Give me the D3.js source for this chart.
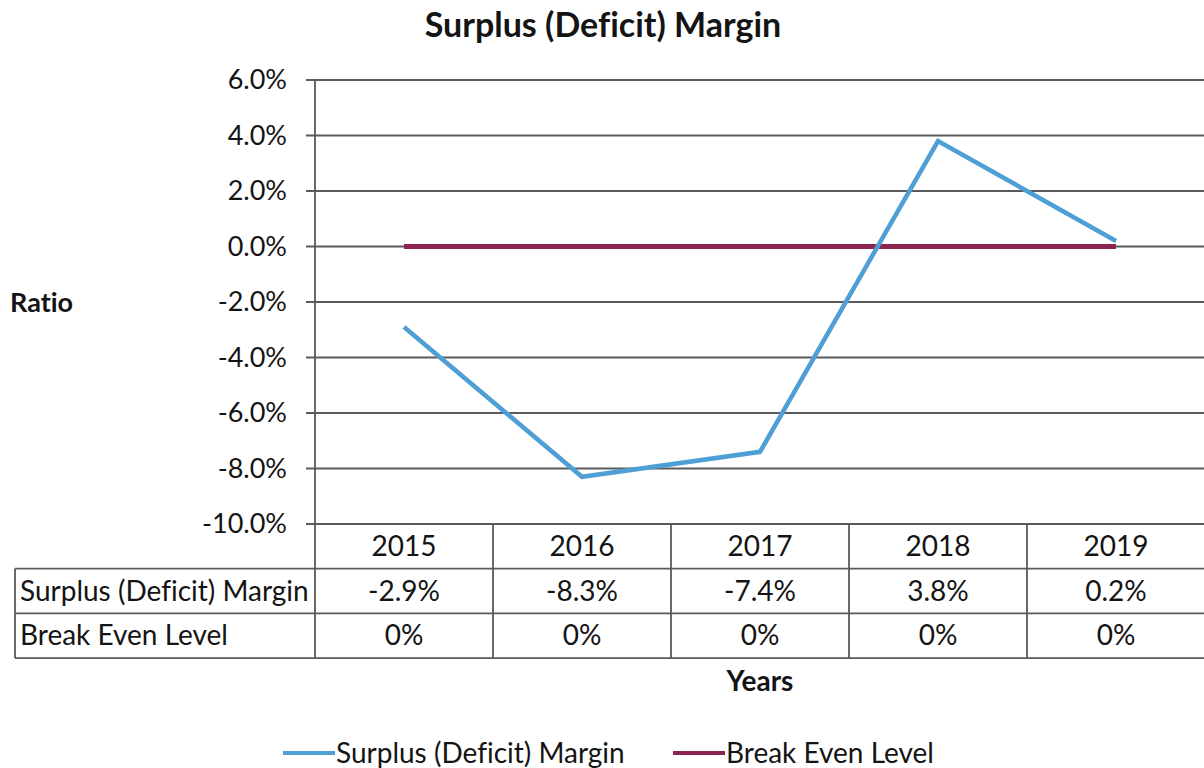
<!DOCTYPE html>
<head>
  <meta charset="utf-8">
  <style>
    body { margin: 0; background: #fff; }
    svg { display: block; font-family: Lato, 'Open Sans', sans-serif; font-variant-ligatures: none; }
  </style>
  <script src="https://cdn.jsdelivr.net/npm/d3@7"></script>
</head>
<body>
<div id=chart></div>
<script>
  const years = ['2015', '2016', '2017', '2018', '2019']
  const margin_values = [-2.9, -8.3, -7.4, 3.8, 0.2]
  const break_even = [0, 0, 0, 0, 0]
  const y_ticks = [6, 4, 2, 0, -2, -4, -6, -8, -10]
  const series = [
    { name: 'Surplus (Deficit) Margin', values: margin_values, color: '#4e9fd6', width: 4.5, fmt: v => `${v.toFixed(1)}%` },
    { name: 'Break Even Level', values: break_even, color: '#8c2450', width: 5, fmt: v => `${v}%` },
  ]

  const width = 1204, height = 768
  const plot_left = 315, plot_right = 1205, plot_top = 80, plot_bottom = 524
  const row_h = 44.7
  const table_left = 15
  const grid_color = '#5a5a5a'
  const text_color = '#141414'
  const fs = 28

  const svg = d3.select('#chart').append('svg')
    .attr('width', width)
    .attr('height', height)

  const x = d3.scaleBand().domain(years).range([plot_left, plot_right])
  const y = d3.scaleLinear().domain([-10, 6]).range([plot_bottom, plot_top])

  // title
  svg.append('text')
    .attr('x', 603).attr('y', 37)
    .attr('text-anchor', 'middle')
    .attr('font-size', 34).attr('font-weight', 'bold')
    .attr('fill', text_color)
    .text('Surplus (Deficit) Margin')

  // gridlines + y labels
  const grid = svg.append('g')
  grid.selectAll('line')
    .data(y_ticks)
    .join('line')
    .attr('x1', plot_left - 9).attr('x2', plot_right)
    .attr('y1', d => y(d)).attr('y2', d => y(d))
    .attr('stroke', grid_color).attr('stroke-width', 1.8)
  grid.selectAll('text')
    .data(y_ticks)
    .join('text')
    .attr('x', plot_left - 28)
    .attr('y', d => y(d) + 9)
    .attr('text-anchor', 'end')
    .attr('font-size', 27)
    .attr('fill', text_color)
    .text(d => `${d.toFixed(1)}%`)

  svg.append('text')
    .attr('x', 10).attr('y', 312)
    .attr('font-size', 27).attr('font-weight', 'bold')
    .attr('fill', text_color)
    .text('Ratio')

  // table
  const table = svg.append('g')
  const row_y = i => plot_bottom + i * row_h
  table.append('line')
    .attr('x1', plot_left).attr('x2', plot_right)
    .attr('y1', row_y(0)).attr('y2', row_y(0))
    .attr('stroke', grid_color).attr('stroke-width', 1.8)
  ;[1, 2, 3].forEach(i => {
    table.append('line')
      .attr('x1', table_left).attr('x2', plot_right)
      .attr('y1', row_y(i)).attr('y2', row_y(i))
      .attr('stroke', grid_color).attr('stroke-width', 1.8)
  })
  table.append('line')
    .attr('x1', plot_left).attr('x2', plot_left)
    .attr('y1', plot_top).attr('y2', row_y(3))
    .attr('stroke', grid_color).attr('stroke-width', 1.8)
  table.append('line')
    .attr('x1', table_left).attr('x2', table_left)
    .attr('y1', row_y(1)).attr('y2', row_y(3))
    .attr('stroke', grid_color).attr('stroke-width', 1.8)
  table.selectAll('line.col')
    .data(years.slice(1))
    .join('line')
    .attr('class', 'col')
    .attr('x1', d => x(d)).attr('x2', d => x(d))
    .attr('y1', row_y(0)).attr('y2', row_y(3))
    .attr('stroke', grid_color).attr('stroke-width', 1.8)

  // header
  table.selectAll('text.year')
    .data(years)
    .join('text')
    .attr('class', 'year')
    .attr('x', d => x(d) + x.bandwidth() / 2)
    .attr('y', row_y(0) + 32)
    .attr('text-anchor', 'middle')
    .attr('font-size', fs).attr('fill', text_color)
    .text(d => d)

  series.forEach((s, i) => {
    const ry = row_y(i + 1) + 32
    table.append('text')
      .attr('x', table_left + 5).attr('y', ry)
      .attr('font-size', fs).attr('fill', text_color)
      .text(s.name)
    table.selectAll(`text.v${i}`)
      .data(s.values)
      .join('text')
      .attr('class', `v${i}`)
      .attr('x', (d, j) => x(years[j]) + x.bandwidth() / 2)
      .attr('y', ry)
      .attr('text-anchor', 'middle')
      .attr('font-size', fs).attr('fill', text_color)
      .text(d => s.fmt(d))
  })

  // lines
  const line = d3.line()
    .x((d, j) => x(years[j]) + x.bandwidth() / 2)
    .y(d => y(d))
  series.slice().reverse().forEach(s => {
    svg.append('path')
      .attr('d', line(s.values))
      .attr('fill', 'none')
      .attr('stroke', s.color)
      .attr('stroke-width', s.width)
  })

  svg.append('text')
    .attr('x', 760).attr('y', 691)
    .attr('text-anchor', 'middle')
    .attr('font-size', fs).attr('font-weight', 'bold')
    .attr('fill', text_color)
    .text('Years')

  // legend
  const legend_x = [283, 673]
  const legend = svg.append('g')
  series.forEach((s, i) => {
    legend.append('line')
      .attr('x1', legend_x[i]).attr('x2', legend_x[i] + 52)
      .attr('y1', 753).attr('y2', 753)
      .attr('stroke', s.color).attr('stroke-width', 4)
    legend.append('text')
      .attr('x', legend_x[i] + 53).attr('y', 763)
      .attr('font-size', fs).attr('fill', text_color)
      .text(s.name)
  })
</script>
</body>
